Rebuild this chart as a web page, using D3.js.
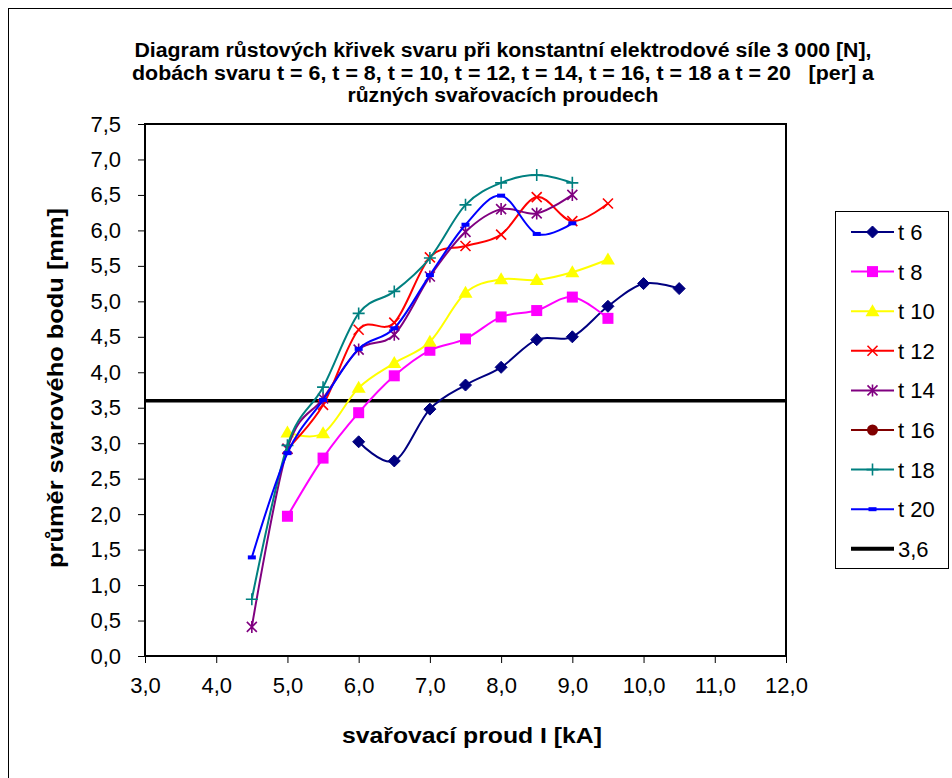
<!DOCTYPE html>
<html>
<head>
<meta charset="utf-8">
<script src="https://cdn.jsdelivr.net/npm/d3@7"></script>
<style>
  body { margin: 0; background: #fff; }
  text { font-family: "Liberation Sans", Arial, sans-serif; fill: #000; }
</style>
</head>
<body>
<svg width="952" height="778"></svg>
<script>
// svařovací proud I [kA]
var proud = [4.5, 5.0, 5.5, 6.0, 6.5, 7.0, 7.5, 8.0, 8.5, 9.0, 9.5, 10.0, 10.5];

// průměr svarového bodu [mm] per doba svaru
var t6  = [null, null, null, 3.02, 2.75, 3.48, 3.82, 4.07, 4.46, 4.50, 4.93, 5.25, 5.18];
var t8  = [null, 1.97, 2.79, 3.43, 3.95, 4.31, 4.47, 4.78, 4.87, 5.06, 4.76, null, null];
var t10 = [null, 3.15, 3.14, 3.78, 4.13, 4.43, 5.12, 5.31, 5.30, 5.41, 5.59, null, null];
var t12 = [null, 2.92, 3.54, 4.60, 4.70, 5.62, 5.78, 5.94, 6.47, 6.13, 6.38, null, null];
var t14 = [0.41, 2.92, 3.63, 4.32, 4.53, 5.35, 5.98, 6.30, 6.24, 6.50, null, null, null];
var t16 = [null, null, null, null, null, null, null, null, null, null, null, null, null];
var t18 = [0.80, 2.97, 3.79, 4.83, 5.14, 5.61, 6.36, 6.67, 6.78, 6.67, null, null, null];
var t20 = [1.39, 2.86, 3.61, 4.33, 4.62, 5.37, 6.08, 6.49, 5.95, 6.10, null, null, null];
var limit = 3.6;

var seriesNames = ["t 6", "t 8", "t 10", "t 12", "t 14", "t 16", "t 18", "t 20"];
var seriesValues = [t6, t8, t10, t12, t14, t16, t18, t20];
var seriesColors = ["#000080", "#ff00ff", "#ffff00", "#ff0000", "#800080", "#800000", "#008080", "#0000ff"];
var seriesMarkers = ["diamond", "square", "triangle", "x", "star", "circle", "plus", "dash"];

var xTicks = [3, 4, 5, 6, 7, 8, 9, 10, 11, 12];
var yTicks = [0, 0.5, 1, 1.5, 2, 2.5, 3, 3.5, 4, 4.5, 5, 5.5, 6, 6.5, 7, 7.5];

var titleLines = [
  "Diagram růstových křivek svaru při konstantní elektrodové síle 3 000 [N],",
  "dobách svaru t = 6, t = 8, t = 10, t = 12, t = 14, t = 16, t = 18 a t = 20   [per] a",
  "různých svařovacích proudech"
];
var titleWidths = [737, 742, 311];

var svg = d3.select("svg");
var plot = {left: 145, right: 786, top: 124, bottom: 656};

var x = d3.scaleLinear().domain([3, 12]).range([plot.left, plot.right]);
var y = d3.scaleLinear().domain([0, 7.5]).range([plot.bottom, plot.top]);
var fmt = function(d) { return d3.format(".1f")(d).replace(".", ","); };

// outer frame (only top / left visible in the picture)
svg.append("rect")
  .attr("x", 8.5).attr("y", 8.5).attr("width", 1000).attr("height", 1000)
  .attr("fill", "none").attr("stroke", "#000").attr("stroke-width", 1);

// title
svg.append("g").selectAll("text")
  .data(titleLines)
  .enter().append("text")
    .attr("x", 503)
    .attr("y", function(d, i) { return 57 + i * 22.5; })
    .attr("text-anchor", "middle")
    .attr("font-weight", "bold")
    .attr("font-size", "20px")
    .attr("textLength", function(d, i) { return titleWidths[i]; })
    .attr("lengthAdjust", "spacingAndGlyphs")
    .attr("xml:space", "preserve")
    .text(function(d) { return d; });

// axes
svg.append("g")
  .attr("transform", "translate(0," + plot.bottom + ")")
  .call(d3.axisBottom(x).tickValues(xTicks).tickFormat(fmt).tickSize(7).tickPadding(14))
  .call(function(g) {
    g.select(".domain").remove();
    g.selectAll("line").attr("stroke", "#000");
    g.selectAll("text").attr("font-size", "22px").attr("font-family", "Liberation Sans, Arial, sans-serif");
  });

svg.append("g")
  .attr("transform", "translate(" + plot.left + ",0)")
  .call(d3.axisLeft(y).tickValues(yTicks).tickFormat(fmt).tickSize(7).tickPadding(17))
  .call(function(g) {
    g.select(".domain").remove();
    g.selectAll("line").attr("stroke", "#000");
    g.selectAll("text").attr("font-size", "22px").attr("font-family", "Liberation Sans, Arial, sans-serif");
  });

// plot area border
svg.append("rect")
  .attr("x", plot.left).attr("y", plot.top)
  .attr("width", plot.right - plot.left).attr("height", plot.bottom - plot.top)
  .attr("fill", "none").attr("stroke", "#000").attr("stroke-width", 2);

// axis titles
svg.append("text")
  .attr("x", 472).attr("y", 743)
  .attr("text-anchor", "middle")
  .attr("font-weight", "bold").attr("font-size", "22px")
  .attr("textLength", 260).attr("lengthAdjust", "spacingAndGlyphs")
  .text("svařovací proud I [kA]");

svg.append("text")
  .attr("transform", "translate(63,388) rotate(-90)")
  .attr("text-anchor", "middle")
  .attr("font-weight", "bold").attr("font-size", "22px")
  .attr("textLength", 360).attr("lengthAdjust", "spacingAndGlyphs")
  .text("průměr svarového bodu [mm]");

// marker drawing
function drawMarker(g, type, color) {
  if (type === "diamond") {
    g.append("path").attr("d", "M0,-6L6,0L0,6L-6,0Z").attr("fill", color).attr("stroke", color);
  } else if (type === "square") {
    g.append("rect").attr("x", -5.5).attr("y", -5.5).attr("width", 11).attr("height", 11).attr("fill", color);
  } else if (type === "triangle") {
    g.append("path").attr("d", "M0,-7L7,5L-7,5Z").attr("fill", color);
  } else if (type === "x") {
    g.append("path").attr("d", "M-5,-5L5,5M-5,5L5,-5").attr("stroke", color).attr("stroke-width", 1.6);
  } else if (type === "star") {
    g.append("path").attr("d", "M-5,-5L5,5M-5,5L5,-5M0,-6L0,6").attr("stroke", color).attr("stroke-width", 1.6);
  } else if (type === "circle") {
    g.append("circle").attr("r", 5.5).attr("fill", color);
  } else if (type === "plus") {
    g.append("path").attr("d", "M-6,0L6,0M0,-6L0,6").attr("stroke", color).attr("stroke-width", 1.6);
  } else if (type === "dash") {
    g.append("rect").attr("x", -4).attr("y", -2).attr("width", 8).attr("height", 4).attr("fill", color);
  }
}

// limit line 3,6
svg.append("line")
  .attr("x1", plot.left).attr("x2", plot.right)
  .attr("y1", y(limit)).attr("y2", y(limit))
  .attr("stroke", "#000").attr("stroke-width", 3.5);

var line = d3.line()
  .x(function(d) { return x(d[0]); })
  .y(function(d) { return y(d[1]); })
  .curve(d3.curveCardinal.tension(0));

seriesValues.forEach(function(vals, i) {
  var pts = proud.map(function(p, j) { return [p, vals[j]]; })
    .filter(function(d) { return d[1] !== null; });
  if (!pts.length) return;
  svg.append("path")
    .datum(pts)
    .attr("d", line)
    .attr("fill", "none")
    .attr("stroke", seriesColors[i])
    .attr("stroke-width", 2);
  pts.forEach(function(d) {
    var g = svg.append("g").attr("transform", "translate(" + x(d[0]) + "," + y(d[1]) + ")");
    drawMarker(g, seriesMarkers[i], seriesColors[i]);
  });
});

// legend
var legend = svg.append("g");
legend.append("rect")
  .attr("x", 835.5).attr("y", 211.5).attr("width", 113).attr("height", 357)
  .attr("fill", "#fff").attr("stroke", "#000").attr("stroke-width", 1);

var legendNames = seriesNames.concat([fmt(limit)]);
legendNames.forEach(function(name, i) {
  var ly = 232 + i * 39.6;
  var color = i < seriesColors.length ? seriesColors[i] : "#000";
  legend.append("line")
    .attr("x1", 851).attr("x2", 894).attr("y1", ly).attr("y2", ly)
    .attr("stroke", color).attr("stroke-width", i < seriesColors.length ? 2 : 4);
  if (i < seriesMarkers.length) {
    var g = legend.append("g").attr("transform", "translate(872.5," + ly + ")");
    drawMarker(g, seriesMarkers[i], color);
  }
  legend.append("text")
    .attr("x", 898).attr("y", ly + 8)
    .attr("font-size", "22px")
    .text(name);
});
</script>
</body>
</html>
